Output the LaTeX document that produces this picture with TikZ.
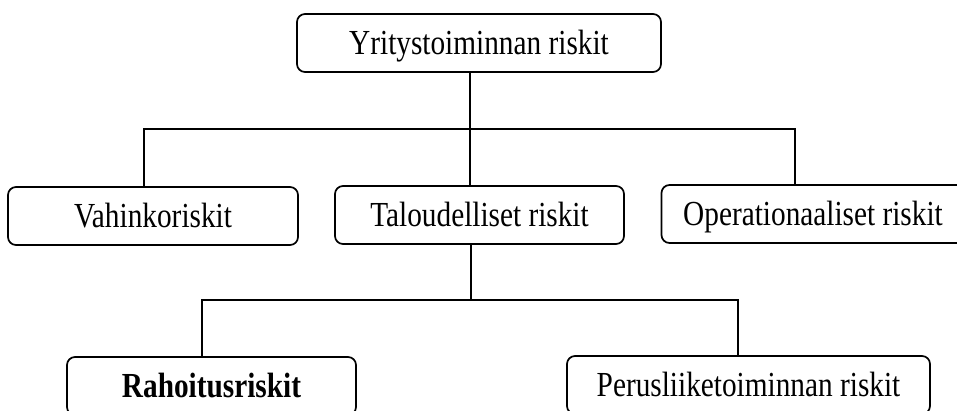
\documentclass[tikz,border=0pt]{standalone}
\usepackage{fontspec}
\usepackage{graphicx}
\setmainfont{Liberation Serif}
\newcommand{\tallt}[1]{\scalebox{1}[1.2]{#1}} % scan is a bit stretched upwards
\tikzset{
  riskbox/.style={draw, line width=1.7pt, rounded corners=8pt, align=center,
    minimum height=58pt, inner sep=0pt, text height=23pt, text depth=0pt,
    font=\fontsize{29.3}{34}\selectfont},
  link/.style={line width=1.6pt}
}
\begin{document}
\begin{tikzpicture}[x=1pt,y=-1pt]
\useasboundingbox (0,0) rectangle (957,410);
\clip (0,0) rectangle (957,410); % bottom and right boxes run off the page
\node[riskbox, minimum width=364pt] (top) at (479,43) {\tallt{Yritystoiminnan riskit}};
\node[riskbox, minimum width=290pt] (vahinko) at (153,216) {\tallt{Vahinkoriskit}};
\node[riskbox, minimum width=289pt] (talous) at (479.5,215) {\tallt{Taloudelliset riskit}};
\node[riskbox, minimum width=303pt] (oper) at (813,214) {\tallt{Operationaaliset riskit}};
\node[riskbox, minimum width=289pt] (rahoitus) at (211.5,386) {\tallt{\bfseries Rahoitusriskit}};
\node[riskbox, minimum width=363pt] (perus) at (748.5,385) {\tallt{Perusliiketoiminnan riskit}};
% first level
\coordinate (jl) at (144,129);
\coordinate (jm) at (470,129);
\coordinate (jr) at (795,129);
\draw[link] (top.south -| jm) -- (jm);
\draw[link] (jl |- vahinko.north) -- (jl) -- (jr) -- (jr |- oper.north);
\draw[link] (jm) -- (jm |- talous.north);
% second level
\coordinate (kl) at (202,300);
\coordinate (km) at (471,300);
\coordinate (kr) at (738,300);
\draw[link] (talous.south -| km) -- (km);
\draw[link] (kl |- rahoitus.north) -- (kl) -- (kr) -- (kr |- perus.north);
\end{tikzpicture}
\end{document}
